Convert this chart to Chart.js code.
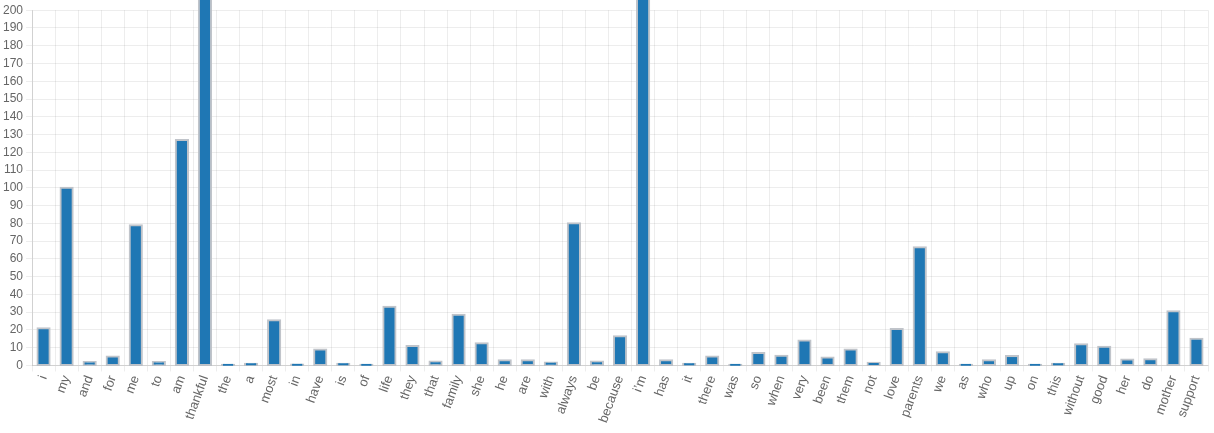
<!DOCTYPE html>
<html>
<head>
<meta charset="utf-8">
<script src="https://cdn.jsdelivr.net/npm/chart.js@4/dist/chart.umd.min.js"></script>
<style>
  html, body { margin: 0; padding: 0; background: #fff; }
  #wrap { width: 1214px; height: 433px; position: relative; }
</style>
</head>
<body>
<div id="wrap"><canvas id="chart"></canvas></div>
<script>
const words = ['i', 'my', 'and', 'for', 'me', 'to', 'am', 'thankful', 'the', 'a',
    'most', 'in', 'have', 'is', 'of', 'life', 'they', 'that', 'family', 'she',
    'he', 'are', 'with', 'always', 'be', 'because', 'i\u2019m', 'has', 'it', 'there',
    'was', 'so', 'when', 'very', 'been', 'them', 'not', 'love', 'parents', 'we',
    'as', 'who', 'up', 'on', 'this', 'without', 'good', 'her', 'do', 'mother', 'support'];

const counts = [21, 100, 2, 5, 79, 2, 127, 230, 0.4, 1,
    25.5, 0.5, 9, 1, 0.4, 33, 11, 2.3, 28.5, 12.5,
    3, 3, 1.7, 80, 2.3, 16.5, 230, 3, 1, 5,
    0.4, 7, 5.5, 14, 4.5, 9, 1.5, 20.5, 66.5, 7.5,
    0.4, 3, 5.3, 0.4, 1, 12, 10.5, 3.3, 3.5, 30.5, 15];

const yMax = 200;
const yStep = 10;

Chart.defaults.font.family = "'Helvetica Neue', Helvetica, Arial, 'Liberation Sans', sans-serif";
Chart.defaults.font.size = 12;
Chart.defaults.color = '#666';

new Chart(document.getElementById('chart'), {
    type: 'bar',
    data: {
        labels: words,
        datasets: [{
            data: counts,
            backgroundColor: '#1f77b4',
            borderColor: 'rgba(185,190,196,0.9)',
            borderWidth: 2,
            borderSkipped: false,
            inflateAmount: 1,
            categoryPercentage: 0.8,
            barPercentage: 0.66,
            clip: false
        }]
    },
    options: {
        responsive: true,
        maintainAspectRatio: false,
        animation: false,
        layout: { padding: { top: 6, right: 6, left: 0, bottom: 6 } },
        plugins: {
            legend: { display: false },
            tooltip: { enabled: false }
        },
        scales: {
            x: {
                grid: { color: 'rgba(0,0,0,0.07)', offset: true, tickLength: 6 },
                border: { color: 'rgba(0,0,0,0.12)' },
                ticks: { minRotation: 70, maxRotation: 70, autoSkip: false, padding: 2, font: { size: 13 } }
            },
            y: {
                min: 0,
                max: yMax,
                grid: { color: 'rgba(0,0,0,0.07)', tickLength: 6 },
                border: { color: 'rgba(0,0,0,0.12)' },
                ticks: { stepSize: yStep, padding: 3 }
            }
        }
    }
});
</script>
</body>
</html>
